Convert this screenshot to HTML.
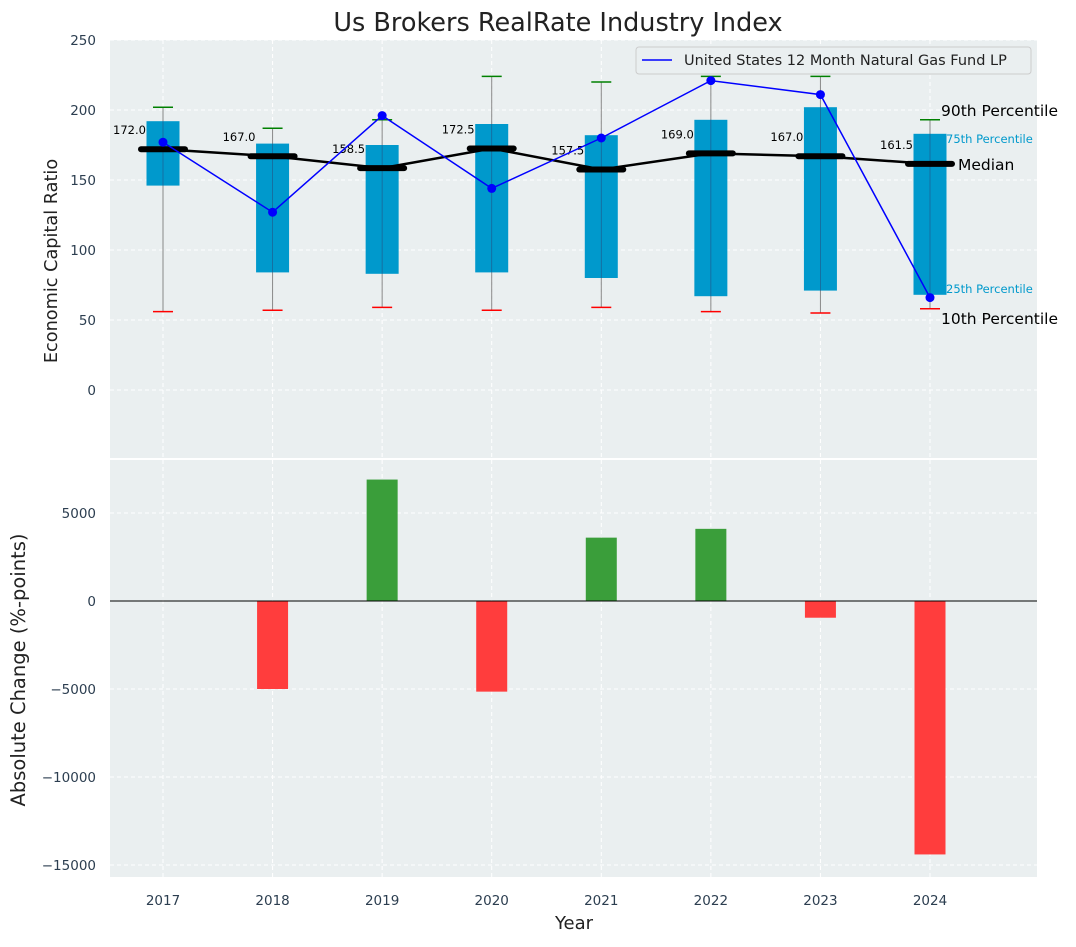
<!DOCTYPE html>
<html><head><meta charset="utf-8"><style>
body{margin:0;background:#fff;}
svg{font-family:"DejaVu Sans","Liberation Sans",sans-serif;}
</style></head><body>
<svg id="c" width="1076" height="942"></svg>
<script>
const years=[2017,2018,2019,2020,2021,2022,2023,2024];
const p10=[56,57,59,57,59,56,55,58];
const q1=[146,84,83,84,80,67,71,68];
const med=[172.0,167.0,158.5,172.5,157.5,169.0,167.0,161.5];
const q3=[192,176,175,190,182,193,202,183];
const p90=[202,187,193,224,220,224,224,193];
const fund=[177,127,196,144,180,221,211,66];
const change=[0,-5000,6900,-5150,3600,4100,-950,-14400];
const topTicks=[0,50,100,150,200,250];
const botTicks=[-15000,-10000,-5000,0,5000];

const NS="http://www.w3.org/2000/svg";
const svg=document.getElementById('c');
function el(tag,attrs,parent,text){const e=document.createElementNS(NS,tag);for(const k in attrs)e.setAttribute(k,attrs[k]);if(text!==undefined)e.textContent=text;(parent||svg).appendChild(e);return e;}
const L=110,R=1037;
const xs=y=>163+(y-2017)*(930-163)/7;
const T0=40,T1=458,B0=460,B1=877;
const yT=v=>390-v*1.4;
const yB=v=>601-v*0.0176;

let g=el('rect',{x:L,y:T0,width:R-L,height:T1-T0,fill:'#eaeff0'});

g=el('rect',{x:L,y:B0,width:R-L,height:B1-B0,fill:'#eaeff0'});


years.forEach(y=>{
 el('line',{x1:xs(y),x2:xs(y),y1:T0,y2:T1,stroke:'#fff','stroke-dasharray':'4,3','stroke-width':1});
 el('line',{x1:xs(y),x2:xs(y),y1:B0,y2:B1,stroke:'#fff','stroke-dasharray':'4,3','stroke-width':1});
 const t=el('text',{x:xs(y),y:905,'text-anchor':'middle','font-size':13.5,fill:'#2c3e50'},null,y);
 
});
topTicks.forEach(v=>{
 el('line',{x1:L,x2:R,y1:yT(v),y2:yT(v),stroke:'#fff','stroke-dasharray':'4,3'});
 const t=el('text',{x:96,y:yT(v)+5,'text-anchor':'end','font-size':13.5,fill:'#2c3e50'},null,v);
 
});
botTicks.forEach(v=>{
 el('line',{x1:L,x2:R,y1:yB(v),y2:yB(v),stroke:'#fff','stroke-dasharray':'4,3'});
 const t=el('text',{x:96,y:yB(v)+5,'text-anchor':'end','font-size':13.5,fill:'#2c3e50'},null,v<0?'\u2212'+Math.abs(v):v);
 
});

years.forEach((y,i)=>{
 const x=xs(y);
 const w=el('line',{x1:x,x2:x,y1:yT(p10[i]),y2:yT(p90[i]),stroke:'#888','stroke-width':1});
 
 const b=el('rect',{x:x-16.5,y:yT(q3[i]),width:33,height:yT(q1[i])-yT(q3[i]),fill:'#0099cc'});
 
 el('line',{x1:x,x2:x,y1:yT(q1[i]),y2:yT(q3[i]),stroke:'#336','stroke-width':0.8,opacity:0.5});
 const c1=el('line',{x1:x-10,x2:x+10,y1:yT(p90[i]),y2:yT(p90[i]),stroke:'green','stroke-width':1.5});
 
 const c2=el('line',{x1:x-10,x2:x+10,y1:yT(p10[i]),y2:yT(p10[i]),stroke:'red','stroke-width':1.5});
 
});
let pts=years.map((y,i)=>xs(y)+','+yT(med[i])).join(' ');
g=el('polyline',{points:pts,fill:'none',stroke:'#000','stroke-width':2.5});

years.forEach((y,i)=>{
 const m=el('line',{x1:xs(y)-22,x2:xs(y)+22,y1:yT(med[i]),y2:yT(med[i]),stroke:'#000','stroke-width':6,'stroke-linecap':'round'});
 
 const t=el('text',{x:xs(y)-50,y:yT(med[i])-15,'font-size':11.5,fill:'#000'},null,med[i].toFixed(1));
 
});
pts=years.map((y,i)=>xs(y)+','+yT(fund[i])).join(' ');
g=el('polyline',{points:pts,fill:'none',stroke:'blue','stroke-width':1.5});

years.forEach((y,i)=>{
 const p=el('circle',{cx:xs(y),cy:yT(fund[i]),r:4.5,fill:'blue'});
 
});
const xl=xs(2024);
[['90th Percentile',xl+11,yT(p90[7])-4,15.5,'#000'],['75th Percentile',xl+16,yT(q3[7])+9,11.5,'#0099cc'],['Median',xl+28,yT(med[7])+6,15.5,'#000'],['25th Percentile',xl+16,yT(q1[7])-2,11.5,'#0099cc'],['10th Percentile',xl+11,yT(p10[7])+15,15.5,'#000']].forEach(a=>{
 const t=el('text',{x:a[1],y:a[2],'font-size':a[3],fill:a[4]},null,a[0]);
 
});
g=el('g',{});

el('rect',{x:636,y:47,width:395,height:27,fill:'#eaeff0',stroke:'#ccc',rx:3},g);
el('line',{x1:642,x2:672,y1:60,y2:60,stroke:'blue','stroke-width':1.5},g);
el('text',{x:684,y:65,'font-size':14.5,fill:'#222'},g,'United States 12 Month Natural Gas Fund LP');

years.forEach((y,i)=>{
 const v=change[i];
 const b=el('rect',{x:xs(y)-15.5,y:Math.min(yB(0),yB(v)),width:31,height:Math.abs(yB(v)-yB(0)),fill:v>=0?'#3a9e3a':'#ff3d3d'});
 
});
g=el('line',{x1:L,x2:R,y1:yB(0),y2:yB(0),stroke:'#000','stroke-width':1});


let t=el('text',{x:558,y:31,'text-anchor':'middle','font-size':25.5,fill:'#222'},null,'Us Brokers RealRate Industry Index');

t=el('text',{x:574,y:929,'text-anchor':'middle','font-size':18,fill:'#222'},null,'Year');

t=el('text',{x:0,y:0,'text-anchor':'middle','font-size':17.7,fill:'#222',transform:'translate(57,261) rotate(-90)'},null,'Economic Capital Ratio');

t=el('text',{x:0,y:0,'text-anchor':'middle','font-size':19.5,fill:'#222',transform:'translate(25,670) rotate(-90)'},null,'Absolute Change (%-points)');

</script>
</body></html>
